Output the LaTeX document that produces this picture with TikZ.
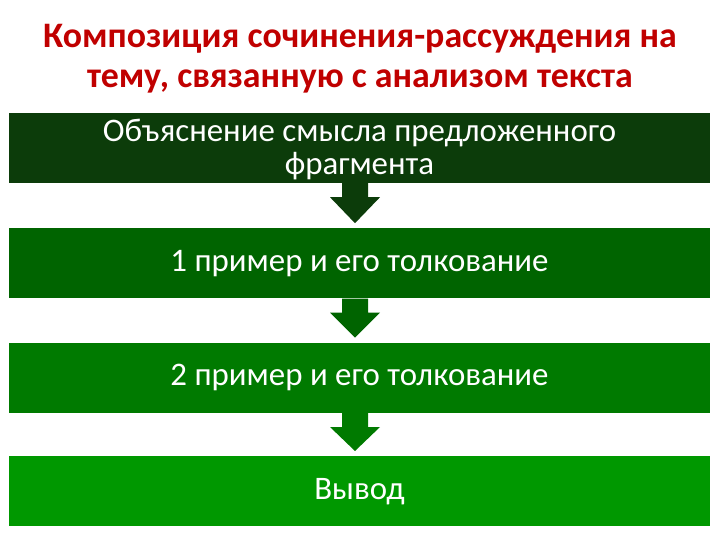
\documentclass[tikz,border=0pt]{standalone}
\usepackage{fontspec}
\setmainfont{Carlito}
\usetikzlibrary{positioning,calc}
\definecolor{titlered}{RGB}{192,0,0}
\definecolor{stageA}{RGB}{12,60,10}
\definecolor{stageB}{RGB}{0,100,0}
\definecolor{stageC}{RGB}{0,122,0}
\definecolor{stageD}{RGB}{0,152,0}
\tikzset{
  heading/.style={text=titlered,font=\bfseries\fontsize{36}{40}\selectfont,align=center},
  stage/.style={minimum width=701bp,minimum height=70bp,inner sep=0pt,text=white,
    font=\fontsize{33}{33}\selectfont,align=center}
}
% block arrow from the bottom of one box to the top of the next
\newcommand\stagearrow[3]{%
\fill[#3] ($(#1.south)+(-17.5,0)$) -- ($(#1.south)+(8.5,0)$) -- ($(#1.south)+(8.5,14)$)
  -- ($(#1.south)+(20.5,14)$) -- ($(#2.north)+(-4.5,-5)$) -- ($(#1.south)+(-29.5,14)$)
  -- ($(#1.south)+(-17.5,14)$) -- cycle;}
\begin{document}
\begin{tikzpicture}[x=1bp,y=-1bp]
\useasboundingbox (0,0) rectangle (720,540);
\node[heading] (title) at (360,59) {Композиция сочинения-рассуждения на\\тему, связанную с анализом текста};
\node[stage,fill=stageA] (expl) at (359.5,148) {\raisebox{-3bp}[\height][\depth]{\begin{tabular}{@{}c@{}}Объяснение смысла предложенного\\фрагмента\end{tabular}}};
\node[stage,fill=stageB,below=45bp of expl] (ex1) {1 пример и его толкование};
\node[stage,fill=stageC,below=44bp of ex1] (ex2) {2 пример и его толкование};
\node[stage,fill=stageD,below=43bp of ex2] (concl) {Вывод};
\stagearrow{expl}{ex1}{stageA}
\stagearrow{ex1}{ex2}{stageB}
\stagearrow{ex2}{concl}{stageC}
\end{tikzpicture}
\end{document}
